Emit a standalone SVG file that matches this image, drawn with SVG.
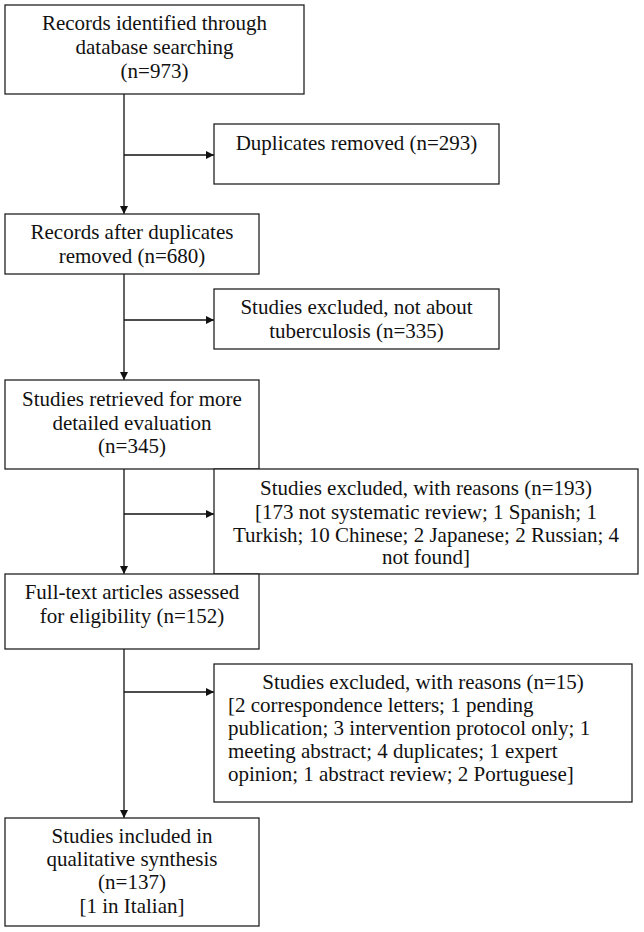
<svg xmlns="http://www.w3.org/2000/svg" width="644" height="932" viewBox="0 0 644 932">
<style>
.box{fill:#fff;stroke:#222;stroke-width:1.3}
.t{font-family:"Liberation Serif","Times New Roman",serif;font-size:21px;fill:#111;text-anchor:middle}
.l{text-anchor:start}
.c{fill:none;stroke:#111;stroke-width:1.3}
</style>
<defs>
<marker id="ah" viewBox="0 0 10 10" refX="10" refY="5" markerWidth="8" markerHeight="8" markerUnits="userSpaceOnUse" orient="auto">
<path d="M0,0 L10,5 L0,10 Z" fill="#111"/>
</marker>
</defs>
<rect width="644" height="932" fill="#fff"/>
<g id="connectors">
<line class="c" x1="124" y1="94" x2="124" y2="214" marker-end="url(#ah)"/>
<line class="c" x1="124" y1="155" x2="214" y2="155" marker-end="url(#ah)"/>
<line class="c" x1="124" y1="274" x2="124" y2="380" marker-end="url(#ah)"/>
<line class="c" x1="124" y1="320" x2="214" y2="320" marker-end="url(#ah)"/>
<line class="c" x1="124" y1="469" x2="124" y2="574" marker-end="url(#ah)"/>
<line class="c" x1="124" y1="514" x2="214" y2="514" marker-end="url(#ah)"/>
<line class="c" x1="124" y1="649" x2="124" y2="818" marker-end="url(#ah)"/>
<line class="c" x1="124" y1="692" x2="214" y2="692" marker-end="url(#ah)"/>
</g>
<g id="n1">
<rect class="box" x="5" y="5" width="299" height="89"/>
<text class="t" x="154.5" y="30">Records identified through</text>
<text class="t" x="154.5" y="54">database searching</text>
<text class="t" x="154.5" y="78">(n=973)</text>
</g>
<g id="n2">
<rect class="box" x="214" y="124" width="285" height="60"/>
<text class="t" x="356.5" y="150">Duplicates removed (n=293)</text>
</g>
<g id="n3">
<rect class="box" x="5" y="214" width="254" height="60"/>
<text class="t" x="132" y="239">Records after duplicates</text>
<text class="t" x="132" y="263">removed (n=680)</text>
</g>
<g id="n4">
<rect class="box" x="214" y="289" width="285" height="60"/>
<text class="t" x="356.5" y="314">Studies excluded, not about</text>
<text class="t" x="356.5" y="338">tuberculosis (n=335)</text>
</g>
<g id="n5">
<rect class="box" x="5" y="380" width="254" height="89"/>
<text class="t" x="132" y="406">Studies retrieved for more</text>
<text class="t" x="132" y="430">detailed evaluation</text>
<text class="t" x="132" y="453">(n=345)</text>
</g>
<g id="n6">
<rect class="box" x="214" y="469" width="424" height="105"/>
<text class="t" x="426" y="495">Studies excluded, with reasons (n=193)</text>
<text class="t" x="426" y="519">[173 not systematic review; 1 Spanish; 1</text>
<text class="t" x="426" y="542">Turkish; 10 Chinese; 2 Japanese; 2 Russian; 4</text>
<text class="t" x="426" y="564">not found]</text>
</g>
<g id="n7">
<rect class="box" x="5" y="574" width="254" height="75"/>
<text class="t" x="132" y="599">Full-text articles assessed</text>
<text class="t" x="132" y="623">for eligibility (n=152)</text>
</g>
<g id="n8">
<rect class="box" x="214" y="664" width="418" height="138"/>
<text class="t" x="423" y="689">Studies excluded, with reasons (n=15)</text>
<text class="t l" x="228" y="712">[2 correspondence letters; 1 pending</text>
<text class="t l" x="228" y="735">publication; 3 intervention protocol only; 1</text>
<text class="t l" x="228" y="758">meeting abstract; 4 duplicates; 1 expert</text>
<text class="t l" x="228" y="781">opinion; 1 abstract review; 2 Portuguese]</text>
</g>
<g id="n9">
<rect class="box" x="5" y="818" width="254" height="108"/>
<text class="t" x="132" y="843">Studies included in</text>
<text class="t" x="132" y="866">qualitative synthesis</text>
<text class="t" x="132" y="889">(n=137)</text>
<text class="t" x="132" y="913">[1 in Italian]</text>
</g>
</svg>
